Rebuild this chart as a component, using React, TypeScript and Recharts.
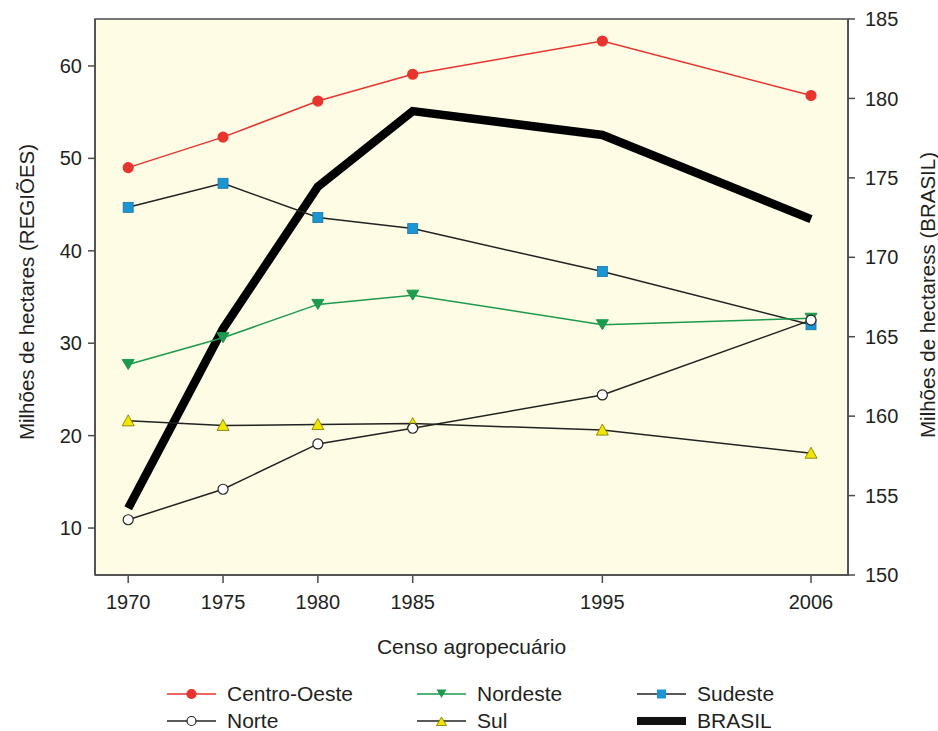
import React from 'react';
import {
  ComposedChart,
  Line,
  XAxis,
  YAxis,
  ReferenceArea,
} from 'recharts';

const years = [1970, 1975, 1980, 1985, 1995, 2006];
const centroOeste = [49.0, 52.3, 56.2, 59.1, 62.7, 56.8];
const nordeste = [27.7, 30.6, 34.2, 35.2, 32.0, 32.7];
const sudeste = [44.7, 47.3, 43.6, 42.4, 37.75, 32.0];
const norte = [10.9, 14.2, 19.1, 20.8, 24.4, 32.5];
const sul = [21.6, 21.1, 21.2, 21.3, 20.6, 18.1];
const brasil = [154.2, 165.5, 174.45, 179.2, 177.7, 172.4];

const leftTicks = [10, 20, 30, 40, 50, 60];
const rightTicks = [150, 155, 160, 165, 170, 175, 180, 185];

const data = years.map((year, i) => ({
  year,
  centroOeste: centroOeste[i],
  nordeste: nordeste[i],
  sudeste: sudeste[i],
  norte: norte[i],
  sul: sul[i],
  brasil: brasil[i],
}));

const FONT = '"Liberation Sans", Arial, sans-serif';
const TEXT = '#231f20';
const RED = '#e8342f';
const GREEN = '#1d9a4e';
const BLUE = '#1b96d3';
const YELLOW = '#f2e600';
const LINE_DARK = '#222';
const AXIS = '#4a4a4a';

const CircleDot = ({ cx, cy, fill, stroke }: any) => {
  if (cx == null || cy == null) return null;
  return <circle cx={cx} cy={cy} r={5} fill={fill} stroke={stroke} strokeWidth={1.2} />;
};

const SquareDot = ({ cx, cy }: any) => {
  if (cx == null || cy == null) return null;
  return <rect x={cx - 5} y={cy - 5} width={10} height={10} fill={BLUE} stroke="#1674a6" strokeWidth={0.8} />;
};

const DownTriangle = ({ cx, cy }: any) => {
  if (cx == null || cy == null) return null;
  return <path d={`M${cx - 6},${cy - 5} L${cx + 6},${cy - 5} L${cx},${cy + 5} Z`} fill={GREEN} stroke={GREEN} />;
};

const UpTriangle = ({ cx, cy }: any) => {
  if (cx == null || cy == null) return null;
  return <path d={`M${cx - 6},${cy + 5} L${cx + 6},${cy + 5} L${cx},${cy - 6} Z`} fill={YELLOW} stroke="#7a7400" strokeWidth={0.8} />;
};

// rotated axis title, centred on (x, y)
const VerticalTitle = ({ x, y, text }: any) => (
  <text
    transform={`translate(${x},${y}) rotate(-90)`}
    textAnchor="middle"
    dominantBaseline="central"
    fill={TEXT}
    fontSize={20.5}
    fontFamily={FONT}
  >
    {text}
  </text>
);

const legendItems = [
  { name: 'Centro-Oeste', color: RED, marker: 'circle', fill: RED },
  { name: 'Nordeste', color: GREEN, marker: 'down', fill: GREEN },
  { name: 'Sudeste', color: LINE_DARK, marker: 'square', fill: BLUE },
  { name: 'Norte', color: LINE_DARK, marker: 'circle', fill: '#fff' },
  { name: 'Sul', color: LINE_DARK, marker: 'up', fill: YELLOW },
  { name: 'BRASIL', color: '#000', marker: 'thick', fill: '#000' },
];

const LegendIcon = ({ item }: any) => {
  const w = 49;
  const c = w / 2;
  return (
    <svg width={w} height={14} style={{ marginRight: 11, flex: 'none' }}>
      {item.marker === 'thick' ? (
        <rect x={0} y={3} width={w} height={8} fill="#111" />
      ) : (
        <line x1={0} y1={7} x2={w} y2={7} stroke={item.color} strokeWidth={1.5} />
      )}
      {item.marker === 'circle' && (
        <circle cx={c} cy={7} r={4.5} fill={item.fill} stroke={item.color} strokeWidth={1.2} />
      )}
      {item.marker === 'square' && <rect x={c - 4.5} y={2.5} width={9} height={9} fill={BLUE} />}
      {item.marker === 'down' && <path d={`M${c - 5},2.5 L${c + 5},2.5 L${c},11 Z`} fill={GREEN} />}
      {item.marker === 'up' && (
        <path d={`M${c - 5},11.5 L${c + 5},11.5 L${c},3 Z`} fill={YELLOW} stroke="#7a7400" strokeWidth={0.8} />
      )}
    </svg>
  );
};

export default function App() {
  return (
    <div style={{ position: 'absolute', left: 0, top: 0, width: 938, height: 731, background: '#fff', fontFamily: FONT }}>
      <ComposedChart
        width={938}
        height={731}
        data={data}
        margin={{ top: 19, right: 0, left: 0, bottom: 66 }}
      >
        <ReferenceArea
          yAxisId="left"
          x1={1968.25}
          x2={2007.95}
          y1={4.92}
          y2={65.08}
          fill="#fefce4"
          fillOpacity={1}
          stroke={AXIS}
          strokeWidth={1.5}
        />
        <XAxis
          dataKey="year"
          type="number"
          domain={[1968.25, 2007.95]}
          ticks={years}
          allowDataOverflow
          height={90}
          tickSize={8}
          tickMargin={12}
          axisLine={{ stroke: AXIS, strokeWidth: 1.5 }}
          tickLine={{ stroke: AXIS, strokeWidth: 1.5 }}
          tick={{ fill: TEXT, fontSize: 20, fontFamily: FONT }}
          label={{ value: 'Censo agropecuário', position: 'insideBottom', offset: 11, fill: TEXT, fontSize: 21, fontFamily: FONT }}
        />
        <YAxis
          yAxisId="left"
          orientation="left"
          width={95}
          domain={[4.92, 65.08]}
          ticks={leftTicks}
          allowDataOverflow
          tickSize={7}
          tickMargin={6}
          axisLine={{ stroke: AXIS, strokeWidth: 1.5 }}
          tickLine={{ stroke: AXIS, strokeWidth: 1.5 }}
          tick={{ fill: TEXT, fontSize: 20, fontFamily: FONT }}
          label={{ content: () => <VerticalTitle x={26} y={292} text="Milhões de hectares (REGIÕES)" /> }}
        />
        <YAxis
          yAxisId="right"
          orientation="right"
          width={90}
          domain={[150, 185]}
          ticks={rightTicks}
          allowDataOverflow
          tickSize={7}
          tickMargin={10}
          axisLine={{ stroke: AXIS, strokeWidth: 1.5 }}
          tickLine={{ stroke: AXIS, strokeWidth: 1.5 }}
          tick={{ fill: TEXT, fontSize: 20, fontFamily: FONT }}
          label={{ content: () => <VerticalTitle x={927} y={295} text="Milhões de hectaress (BRASIL)" /> }}
        />
        <Line
          yAxisId="right"
          dataKey="brasil"
          stroke="#000"
          strokeWidth={8.5}
          dot={false}
          activeDot={false}
          isAnimationActive={false}
        />
        <Line
          yAxisId="left"
          dataKey="centroOeste"
          stroke={RED}
          strokeWidth={1.5}
          dot={(p: any) => <CircleDot key={`co-${p.index}`} {...p} fill={RED} stroke={RED} />}
          isAnimationActive={false}
        />
        <Line
          yAxisId="left"
          dataKey="sudeste"
          stroke={LINE_DARK}
          strokeWidth={1.5}
          dot={(p: any) => <SquareDot key={`se-${p.index}`} {...p} />}
          isAnimationActive={false}
        />
        <Line
          yAxisId="left"
          dataKey="nordeste"
          stroke={GREEN}
          strokeWidth={1.5}
          dot={(p: any) => <DownTriangle key={`ne-${p.index}`} {...p} />}
          isAnimationActive={false}
        />
        <Line
          yAxisId="left"
          dataKey="sul"
          stroke={LINE_DARK}
          strokeWidth={1.5}
          dot={(p: any) => <UpTriangle key={`s-${p.index}`} {...p} />}
          isAnimationActive={false}
        />
        <Line
          yAxisId="left"
          dataKey="norte"
          stroke={LINE_DARK}
          strokeWidth={1.5}
          dot={(p: any) => <CircleDot key={`n-${p.index}`} {...p} fill="#fff" stroke={LINE_DARK} />}
          isAnimationActive={false}
        />
      </ComposedChart>
      <div
        style={{
          position: 'absolute',
          left: 167,
          top: 682,
          display: 'grid',
          gridTemplateColumns: '250px 220px 200px',
          rowGap: 3,
          fontSize: 21,
          lineHeight: '24px',
          color: TEXT,
        }}
      >
        {legendItems.map((item) => (
          <div key={item.name} style={{ display: 'flex', alignItems: 'center', height: 24 }}>
            <LegendIcon item={item} />
            <span>{item.name}</span>
          </div>
        ))}
      </div>
    </div>
  );
}
